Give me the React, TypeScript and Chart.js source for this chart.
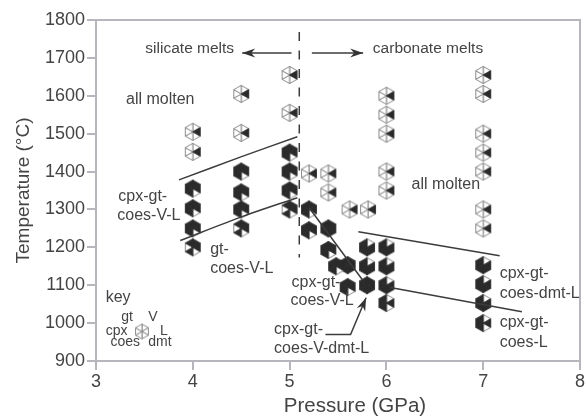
import React, { useEffect, useRef } from "react";
import { Chart, registerables } from "chart.js";

Chart.register(...registerables);

const FONT = "'Liberation Sans', Arial, sans-serif";
const INK = "#444444";
const FRAME = "#b6b6bc";
const BLACK = "#2a2a2a";

type P = [number, number];

const moltenPoints: P[] = [
  [4, 1505], [4, 1452], [4.5, 1605], [4.5, 1502], [5, 1655], [5, 1555],
  [5.2, 1395], [5.4, 1395], [5.4, 1345], [5.62, 1300], [5.81, 1300],
  [6, 1600], [6, 1550], [6, 1500], [6, 1400], [6, 1350],
  [7, 1655], [7, 1605], [7, 1500], [7, 1450], [7, 1400], [7, 1300], [7, 1250],
];
const cpxGtCoesVL: P[] = [
  [4, 1355], [4, 1303], [4, 1250], [4.5, 1400], [4.5, 1345], [4.5, 1300],
  [5, 1450], [5, 1400], [5, 1350], [5.2, 1300], [5.2, 1245], [5.4, 1193],
  [5.48, 1150], [5.6, 1095],
];
const gtCoesVL: P[] = [[4, 1200], [4.5, 1250], [5, 1300]];
const allPhases: P[] = [[5.4, 1250], [5.6, 1153], [5.8, 1100]];
const cpxGtCoesDmtL: P[] = [
  [5.8, 1200], [5.8, 1150], [6, 1200], [6, 1150], [6, 1100],
  [7, 1153], [7, 1103], [7, 1053],
];
const cpxGtCoesL: P[] = [[6, 1053], [7, 1000]];
const keyPoint: P[] = [[3.475, 978]];

const upperBoundary: P[] = [[3.857, 1378], [4.49, 1438], [5.08, 1492]];
const lowerBoundary: P[] = [[3.87, 1218], [4.51, 1281], [5.08, 1331]];
const steepBoundary: P[] = [[5.2, 1305], [5.75, 1115]];
const dmtInBoundary: P[] = [[5.71, 1241], [7.17, 1178]];
const vOutBoundary: P[] = [[6.04, 1094], [7.4, 1030]];
const meltDivide: P[] = [[5.1, 1768], [5.1, 1173]];
const leaderLine: P[] = [[5.37, 970], [5.63, 970], [5.79, 1067]];
const siliArrow: P[] = [[5.02, 1713], [4.51, 1713]];
const carbArrow: P[] = [[5.23, 1713], [5.76, 1713]];

// [text, x, y, font size]
const notes: [string, number, number, number][] = [
  ["silicate melts", 3.51, 1724, 15.5],
  ["carbonate melts", 5.86, 1724, 15.5],
  ["all molten", 3.31, 1589, 16],
  ["all molten", 6.26, 1365, 16],
  ["cpx-gt-", 3.23, 1334, 16],
  ["coes-V-L", 3.22, 1283, 16],
  ["gt-", 4.18, 1194, 16],
  ["coes-V-L", 4.18, 1144, 16],
  ["cpx-gt-", 5.02, 1107, 16],
  ["coes-V-L", 5.01, 1059, 16],
  ["cpx-gt-", 4.84, 983, 16],
  ["coes-V-dmt-L", 4.84, 933, 16],
  ["cpx-gt-", 7.17, 1131, 16],
  ["coes-dmt-L", 7.17, 1078, 16],
  ["cpx-gt-", 7.17, 1001, 16],
  ["coes-L", 7.17, 949, 16],
  ["key", 3.1, 1067, 16],
  ["gt", 3.26, 1015, 14],
  ["V", 3.54, 1015, 14],
  ["cpx", 3.1, 978, 14],
  ["L", 3.66, 978, 14],
  ["coes", 3.15, 949, 14],
  ["dmt", 3.54, 949, 14],
];

const xTitleAnchor: P = [4.94, 780];

const WEDGES = ["V", "L", "dmt", "coes", "cpx", "gt"];

function marker(filled: string[], R = 8.6, lw = 1) {
  const s = 22;
  const c = document.createElement("canvas");
  c.width = s;
  c.height = s;
  const g = c.getContext("2d")!;
  const o = s / 2;
  const v = (i: number): P => {
    const a = -Math.PI / 2 + (i * Math.PI) / 3;
    return [o + R * Math.cos(a), o + R * Math.sin(a)];
  };
  const tri = (i: number) => {
    const a = v(i);
    const b = v(i + 1);
    g.beginPath();
    g.moveTo(o, o);
    g.lineTo(a[0], a[1]);
    g.lineTo(b[0], b[1]);
    g.closePath();
  };
  // white wedges first, so the black ones are not eaten by their outlines
  WEDGES.forEach((w, i) => {
    if (filled.includes(w)) return;
    tri(i);
    g.fillStyle = "#ffffff";
    g.fill();
    g.strokeStyle = "#8a8a8a";
    g.lineWidth = lw;
    g.stroke();
  });
  WEDGES.forEach((w, i) => {
    if (!filled.includes(w)) return;
    tri(i);
    g.fillStyle = BLACK;
    g.fill();
    g.strokeStyle = BLACK;
    g.lineWidth = 0.9;
    g.stroke();
  });
  return c;
}

const lineSet = (data: P[], extra: object = {}) => ({
  type: "scatter" as const,
  data: data.map(([x, y]) => ({ x, y })),
  showLine: true,
  borderColor: "#3c3c3c",
  borderWidth: 1.5,
  pointRadius: 0,
  fill: false,
  tension: 0,
  ...extra,
});

const markerSet = (data: P[], img: HTMLCanvasElement) => ({
  type: "scatter" as const,
  data: data.map(([x, y]) => ({ x, y })),
  pointStyle: img,
  pointRadius: 11,
  showLine: false,
});

const overlay = {
  id: "overlay",
  afterDatasetsDraw(chart: any) {
    const { ctx, chartArea: a, scales } = chart;
    const X = (v: number) => scales.x.getPixelForValue(v);
    const Y = (v: number) => scales.y.getPixelForValue(v);
    ctx.save();
    ctx.strokeStyle = FRAME;
    ctx.lineWidth = 2;
    ctx.strokeRect(a.left, a.top, a.right - a.left, a.bottom - a.top);

    const head = (from: P, to: P) => {
      const ang = Math.atan2(Y(to[1]) - Y(from[1]), X(to[0]) - X(from[0]));
      ctx.save();
      ctx.translate(X(to[0]), Y(to[1]));
      ctx.rotate(ang);
      ctx.beginPath();
      ctx.moveTo(0, 0);
      ctx.lineTo(-13, -4.5);
      ctx.lineTo(-9, 0);
      ctx.lineTo(-13, 4.5);
      ctx.closePath();
      ctx.fillStyle = "#333333";
      ctx.fill();
      ctx.restore();
    };
    head(siliArrow[0], siliArrow[1]);
    head(carbArrow[0], carbArrow[1]);
    head(leaderLine[1], leaderLine[2]);

    ctx.fillStyle = INK;
    ctx.textAlign = "left";
    ctx.textBaseline = "middle";
    notes.forEach(([t, x, y, size]) => {
      ctx.font = `${size}px ${FONT}`;
      ctx.fillText(t, X(x), Y(y));
    });
    // the x title sits right of the axis centre in the reference
    ctx.font = `20.5px ${FONT}`;
    ctx.fillText(scales.x.options.title.text, X(xTitleAnchor[0]), Y(xTitleAnchor[1]));
    ctx.restore();
  },
};

export default function App() {
  const ref = useRef<HTMLCanvasElement>(null);
  useEffect(() => {
    const chart = new Chart(ref.current!, {
      type: "scatter",
      data: {
        datasets: [
          lineSet(upperBoundary, { tension: 0.3 }),
          lineSet(lowerBoundary, { tension: 0.3 }),
          lineSet(steepBoundary),
          lineSet(dmtInBoundary),
          lineSet(vOutBoundary),
          lineSet(leaderLine),
          lineSet(siliArrow),
          lineSet(carbArrow),
          lineSet(meltDivide, { borderDash: [9, 9.5] }),
          markerSet(moltenPoints, marker(["L"])),
          markerSet(cpxGtCoesVL, marker(["cpx", "gt", "V", "L", "coes"])),
          markerSet(gtCoesVL, marker(["gt", "V", "L", "coes"])),
          markerSet(allPhases, marker(WEDGES)),
          markerSet(cpxGtCoesDmtL, marker(["cpx", "gt", "L", "coes", "dmt"])),
          markerSet(cpxGtCoesL, marker(["cpx", "gt", "L", "coes"])),
          markerSet(keyPoint, marker([], 7.4)),
        ] as any,
      },
      options: {
        animation: false,
        responsive: false,
        layout: { padding: { top: 20, right: 0, left: 0, bottom: 0 } },
        plugins: { legend: { display: false }, tooltip: { enabled: false } },
        scales: {
          x: {
            type: "linear",
            min: 3,
            max: 8,
            afterFit: (s: any) => { s.height = 57; },
            border: { color: FRAME, width: 2 },
            grid: { drawOnChartArea: false, color: FRAME, tickLength: 9, lineWidth: 2 },
            ticks: { stepSize: 1, color: INK, font: { size: 18, family: FONT }, padding: 1, maxRotation: 0, callback: (v: any) => String(v) },
            title: { display: false, text: "Pressure (GPa)", color: INK, font: { size: 20.5, family: FONT } },
          },
          y: {
            type: "linear",
            min: 900,
            max: 1800,
            afterFit: (s: any) => { s.width = 96; },
            border: { color: FRAME, width: 2 },
            grid: { drawOnChartArea: false, color: FRAME, tickLength: 9, lineWidth: 2 },
            ticks: { stepSize: 100, color: INK, font: { size: 18, family: FONT }, padding: 2, callback: (v: any) => String(v) },
            title: { display: true, text: "Temperature (°C)", color: INK, font: { size: 19, family: FONT }, padding: { top: 12, bottom: 0 } },
          },
        },
      },
      plugins: [overlay],
    });
    return () => chart.destroy();
  }, []);
  return (
    <div style={{ position: "absolute", left: 0, top: 0, width: 586, height: 418, overflow: "hidden", background: "#fff" }}>
      <canvas ref={ref} width={592} height={418} style={{ display: "block", width: 592, height: 418, filter: "blur(0.4px)" }} />
    </div>
  );
}
